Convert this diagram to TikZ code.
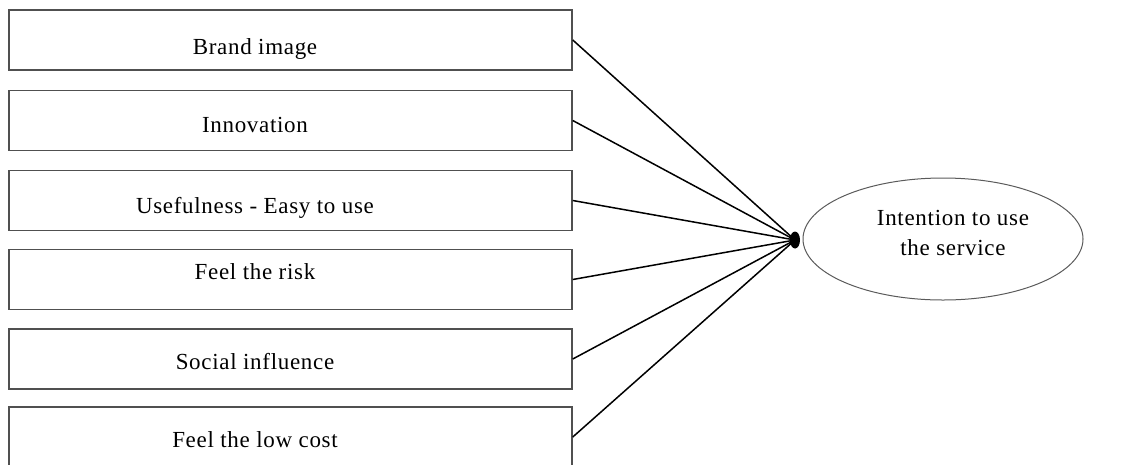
\documentclass[tikz,border=0pt]{standalone}
\usepackage{fontspec}
\setmainfont{Liberation Serif}[LetterSpace=3]
\usepackage{tikz}
\usetikzlibrary{shapes.geometric}

\tikzset{
  factor/.style={draw={rgb,255:red,80;green,80;blue,80}, line width=1.5, minimum width=563, minimum height=60, inner sep=0},
  factortext/.style={anchor=base, inner sep=0.75pt, font=\fontsize{23}{30}\selectfont},
  link/.style={line width=1.5},
}

\begin{document}
\begin{tikzpicture}[x=1pt,y=1pt,yscale=-1,xscale=1]
\clip (0,0) rectangle (1140,464);

%Shape: Rectangle
\node [factor] (brand) at (290.5,40) {};
%Shape: Rectangle
\node [factor] (innov) at (290.5,120.5) {};
%Shape: Rectangle
\node [factor] (useful) at (290.5,200.5) {};
%Shape: Rectangle
\node [factor] (risk) at (290.5,279.5) {};
%Shape: Rectangle
\node [factor] (social) at (290.5,359) {};
%Shape: Rectangle
\node [factor] (cost) at (290.5,437) {};

%Shape: Ellipse
\node [draw={rgb,255:red,90;green,90;blue,90}, line width=1, ellipse, minimum width=280, minimum height=122, inner sep=0] (intent) at (943,239) {};
%Shape: Dot
\node [fill=black, ellipse, minimum width=10, minimum height=17, inner sep=0] (hub) at (795,240) {};

%Straight Lines
\draw [link] (brand.east) -- (hub.center) ;
\draw [link] (innov.east) -- (hub.center) ;
\draw [link] (useful.east) -- (hub.center) ;
\draw [link] (risk.east) -- (hub.center) ;
\draw [link] (social.east) -- (hub.center) ;
\draw [link] (cost.east) -- (hub.center) ;

% Text Node
\node [factortext] (brandlbl) at (255,54) {Brand image};
% Text Node
\node [factortext] (innovlbl) at (255,132) {Innovation};
% Text Node
\node [factortext] (usefullbl) at (255,213) {Usefulness - Easy to use};
% Text Node
\node [factortext] (risklbl) at (255,279) {Feel the risk};
% Text Node
\node [factortext] (sociallbl) at (255,369) {Social influence};
% Text Node
\node [factortext] (costlbl) at (255,447) {Feel the low cost};
% Text Node
\node [factortext] (intentlbl) at (953,225) {Intention to use};
% Text Node
\node [factortext] (intentlbl2) at (953,255) {the service};
\end{tikzpicture}
\end{document}
